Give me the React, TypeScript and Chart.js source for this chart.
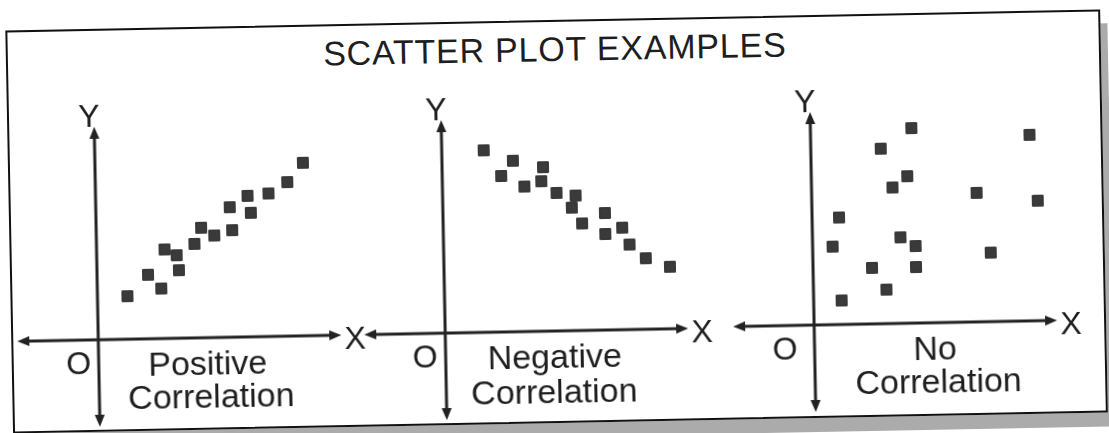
import React, { useEffect, useRef } from "react";
import { Chart, registerables } from "chart.js";

Chart.register(...registerables);

// ---------- data ----------
const chartTitle = "SCATTER PLOT EXAMPLES";
const panelCaptions = [
  ["Positive", "Correlation"],
  ["Negative", "Correlation"],
  ["No", "Correlation"],
];
const axisLetterX = "X";
const axisLetterY = "Y";
const originLetter = "O";

const positiveX = [3.0, 5.1, 6.4, 6.8, 8.0, 8.2, 9.8, 10.5, 11.8, 13.6, 13.4, 15.2, 15.5, 17.3, 19.2, 20.8];
const positiveY = [4.3, 6.4, 5.0, 8.9, 8.3, 6.8, 9.4, 11.0, 10.2, 10.7, 13.0, 14.1, 12.4, 14.3, 15.4, 17.3];

const negativeX = [4.2, 7.1, 5.9, 10.1, 9.9, 8.2, 11.4, 13.3, 12.9, 13.9, 16.2, 17.9, 16.2, 18.6, 20.2, 22.6];
const negativeY = [18.2, 17.1, 15.6, 16.4, 15.0, 14.5, 13.8, 13.5, 12.3, 10.7, 11.7, 10.2, 9.6, 8.5, 7.1, 6.2];

const noneX = [10.1, 21.9, 7.0, 9.6, 8.1, 16.5, 22.6, 2.7, 2.0, 8.8, 10.3, 17.8, 5.9, 10.3, 7.3, 2.8];
const noneY = [19.5, 18.6, 17.5, 14.7, 13.6, 12.9, 12.0, 10.7, 7.8, 8.6, 7.7, 6.9, 5.6, 5.6, 3.4, 2.4];

// axis arrow extents (data units)
const axisXExtent = [-8.1, 24.3];
const axisYExtent = [-8.7, 21.3];
// scale ranges (data units)
const scaleXRange = [-9, 26];
const scaleYRange = [-9.5, 22.5];

// ---------- layout / style ----------
const FONT = '"Liberation Sans", Arial, Helvetica, sans-serif';
const INK = "#1e1e1e";
const CANVAS_W = 350;
const CANVAS_H = 320;
const ORIGIN_IN_CANVAS_X = 90;
const ORIGIN_IN_CANVAS_Y = 225;

const panels = [
  { xs: positiveX, ys: positiveY, caption: panelCaptions[0], ox: 96, oy: 331, oDx: -20, capX: [109, 112], capBase: [37, 70] },
  { xs: negativeX, ys: negativeY, caption: panelCaptions[1], ox: 443, oy: 331, oDx: -20.5, capX: [109, 108], capBase: [37, 72] },
  { xs: noneX, ys: noneY, caption: panelCaptions[2], ox: 812, oy: 330, oDx: -29.5, capX: [120.5, 123.4], capBase: [37, 70] },
];

const arrowAxes = {
  id: "arrowAxes",
  beforeDatasetsDraw(chart: any) {
    const { ctx } = chart;
    const xs = chart.scales.x;
    const ys = chart.scales.y;
    const x0 = xs.getPixelForValue(0);
    const y0 = ys.getPixelForValue(0);
    const xl = xs.getPixelForValue(axisXExtent[0]);
    const xr = xs.getPixelForValue(axisXExtent[1]);
    const yt = ys.getPixelForValue(axisYExtent[1]);
    const yb = ys.getPixelForValue(axisYExtent[0]);
    const L = 12;
    const HW = 5;
    ctx.save();
    ctx.strokeStyle = "#222";
    ctx.fillStyle = "#222";
    ctx.lineWidth = 3;
    ctx.beginPath();
    ctx.moveTo(xl + L - 2, y0);
    ctx.lineTo(xr - L + 2, y0);
    ctx.moveTo(x0, yt + L - 2);
    ctx.lineTo(x0, yb - L + 2);
    ctx.stroke();
    const tri = (ax: number, ay: number, bx: number, by: number, cx: number, cy: number) => {
      ctx.beginPath();
      ctx.moveTo(ax, ay);
      ctx.lineTo(bx, by);
      ctx.lineTo(cx, cy);
      ctx.closePath();
      ctx.fill();
    };
    tri(xr, y0, xr - L, y0 - HW, xr - L, y0 + HW);
    tri(xl, y0, xl + L, y0 - HW, xl + L, y0 + HW);
    tri(x0, yt, x0 - HW, yt + L, x0 + HW, yt + L);
    tri(x0, yb, x0 - HW, yb - L, x0 + HW, yb - L);
    ctx.restore();
  },
};

function Panel({ xs, ys }: { xs: number[]; ys: number[] }) {
  const ref = useRef<HTMLCanvasElement | null>(null);
  useEffect(() => {
    if (!ref.current) return;
    const chart = new Chart(ref.current, {
      type: "scatter",
      data: {
        datasets: [
          {
            data: xs.map((x, i) => ({ x, y: ys[i] })),
            pointStyle: "rect",
            pointRadius: 7.6,
            pointHoverRadius: 7.6,
            backgroundColor: "#3a3a3a",
            borderColor: "#2b2b2b",
            borderWidth: 1,
            clip: false as any,
          },
        ],
      },
      options: {
        responsive: false,
        maintainAspectRatio: false,
        animation: false,
        layout: { padding: 0, autoPadding: false } as any,
        events: [],
        scales: {
          x: { type: "linear", display: false, min: scaleXRange[0], max: scaleXRange[1] },
          y: { type: "linear", display: false, min: scaleYRange[0], max: scaleYRange[1] },
        },
        plugins: { legend: { display: false }, tooltip: { enabled: false }, title: { display: false } },
      },
      plugins: [arrowAxes],
    });
    return () => chart.destroy();
  }, [xs, ys]);
  return <canvas ref={ref} width={CANVAS_W} height={CANVAS_H} />;
}

function Label({ text, cx, baseline, size }: { text: string; cx: number; baseline: number; size: number }) {
  return (
    <div
      style={{
        position: "absolute",
        left: cx,
        top: baseline - 0.8465 * size,
        transform: "translateX(-50%)",
        fontFamily: FONT,
        fontSize: size,
        lineHeight: `${size}px`,
        color: INK,
        whiteSpace: "nowrap",
      }}
    >
      {text}
    </div>
  );
}

export default function App() {
  return (
    <div
      style={{
        position: "fixed",
        left: 0,
        top: 0,
        width: 1109,
        height: 433,
        overflow: "hidden",
        background: "#ffffff",
      }}
    >
      <div
        style={{
          position: "absolute",
          left: 0,
          top: 0,
          width: 1109,
          height: 433,
          transform: "rotate(-1.1deg)",
          transformOrigin: "554.5px 216.5px",
        }}
      >
        <div
          style={{
            position: "absolute",
            left: 8.5,
            top: 20,
            width: 1095.5,
            height: 403,
            border: "2px solid #111",
            boxSizing: "border-box",
            boxShadow: "7px 14px 0 #ababab",
            background: "#fff",
          }}
        />
        <div
          style={{
            position: "absolute",
            left: 558,
            top: 61 - 0.8465 * 34,
            transform: "translateX(-50%)",
            fontFamily: FONT,
            fontSize: 34,
            lineHeight: "34px",
            letterSpacing: "0.8px",
            color: INK,
            whiteSpace: "nowrap",
          }}
        >
          {chartTitle}
        </div>
        {panels.map((p, i) => (
          <React.Fragment key={i}>
            <div
              style={{
                position: "absolute",
                left: p.ox - ORIGIN_IN_CANVAS_X,
                top: p.oy - ORIGIN_IN_CANVAS_Y,
                width: CANVAS_W,
                height: CANVAS_H,
              }}
            >
              <Panel xs={p.xs} ys={p.ys} />
            </div>
            <Label text={axisLetterY} cx={p.ox - 5} baseline={p.oy - 213} size={32} />
            <Label text={axisLetterX} cx={p.ox + 257} baseline={p.oy + 14} size={32} />
            <Label text={originLetter} cx={p.ox + p.oDx} baseline={p.oy + 34} size={32} />
            <Label text={p.caption[0]} cx={p.ox + p.capX[0]} baseline={p.oy + p.capBase[0]} size={34} />
            <Label text={p.caption[1]} cx={p.ox + p.capX[1]} baseline={p.oy + p.capBase[1]} size={34} />
          </React.Fragment>
        ))}
      </div>
    </div>
  );
}
